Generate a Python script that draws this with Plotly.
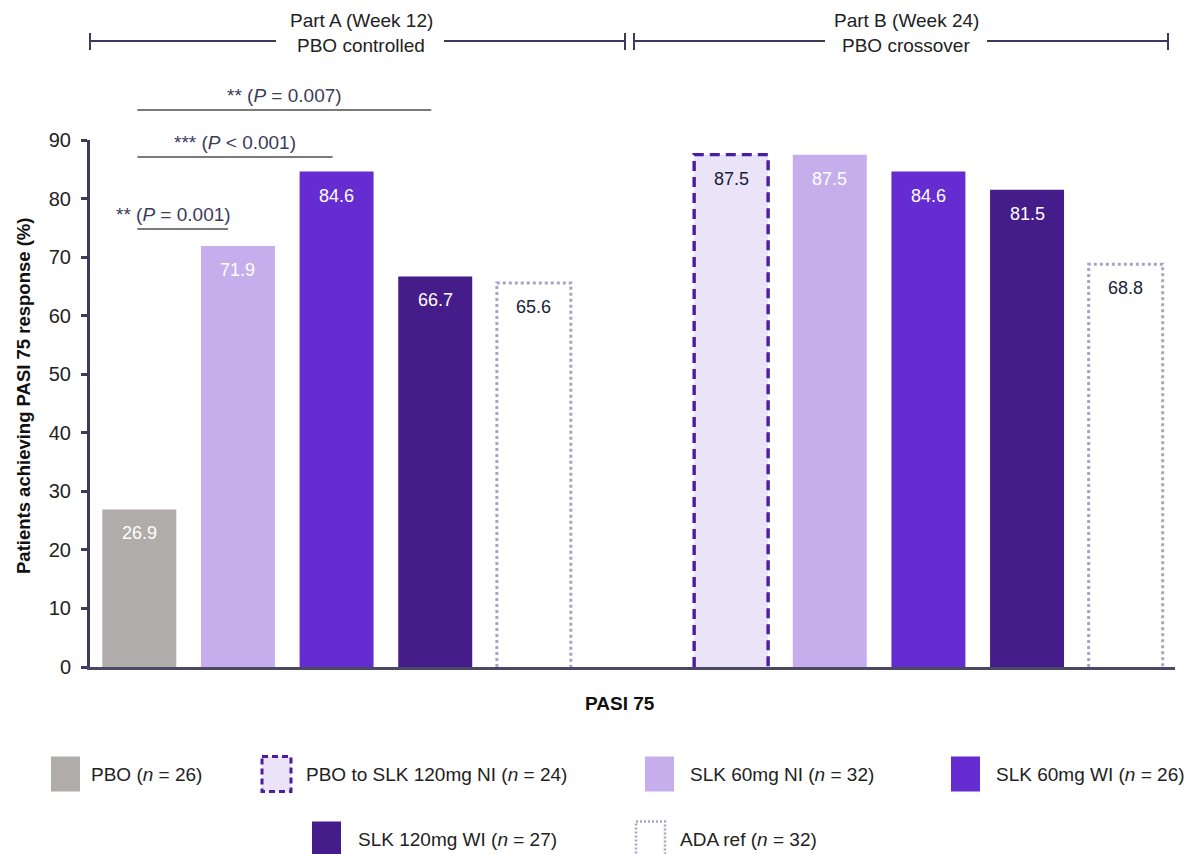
import plotly.graph_objects as go

# ---- data ----
groups = ["PBO", "PBO to SLK 120mg NI", "SLK 60mg NI", "SLK 60mg WI", "SLK 120mg WI", "ADA ref"]
group_n = [26, 24, 32, 26, 27, 32]

part_a_groups = ["PBO", "SLK 60mg NI", "SLK 60mg WI", "SLK 120mg WI", "ADA ref"]
part_a_values = [26.9, 71.9, 84.6, 66.7, 65.6]

part_b_groups = ["PBO to SLK 120mg NI", "SLK 60mg NI", "SLK 60mg WI", "SLK 120mg WI", "ADA ref"]
part_b_values = [87.5, 87.5, 84.6, 81.5, 68.8]

y_ticks = [0, 10, 20, 30, 40, 50, 60, 70, 80, 90]

sig_labels = ["** (<i>P</i> = 0.001)", "*** (<i>P</i> < 0.001)", "** (<i>P</i> = 0.007)"]
sig_pairs = [("PBO", "SLK 60mg NI"), ("PBO", "SLK 60mg WI"), ("PBO", "SLK 120mg WI")]

# ---- styles ----
FONT = "Liberation Sans, Arial, sans-serif"
TXT = "#222222"
AXIS = "#3d3a5c"
style = {
    "PBO": dict(fill="#b0acab", edge=None, dash=None, label="white"),
    "PBO to SLK 120mg NI": dict(fill="#ebe3f8", edge="#4b1ea0", dash="10px,6px", label="#1c1c3a"),
    "SLK 60mg NI": dict(fill="#c5aeeb", edge=None, dash=None, label="white"),
    "SLK 60mg WI": dict(fill="#652dd1", edge=None, dash=None, label="white"),
    "SLK 120mg WI": dict(fill="#451d8b", edge=None, dash=None, label="white"),
    "ADA ref": dict(fill="white", edge="#a9a3c5", dash="3px,3px", label="#1c1c3a"),
}
BAR_W = 0.75

# slot positions: part A in slots 0-4, one empty slot, part B in slots 6-10
bars = []
for i, (g, v) in enumerate(zip(part_a_groups, part_a_values)):
    bars.append((i, g, v))
off = len(part_a_groups) + 1
for i, (g, v) in enumerate(zip(part_b_groups, part_b_values)):
    bars.append((off + i, g, v))

fig = go.Figure()
annotations = []
shapes = []

for g in groups:
    sel = [(x, v) for x, gg, v in bars if gg == g]
    if not sel:
        continue
    xs = [s[0] for s in sel]
    vs = [s[1] for s in sel]
    st = style[g]
    fig.add_trace(go.Bar(
        x=xs, y=vs, width=BAR_W, name=g, showlegend=False,
        marker=dict(color=st["fill"], line=dict(width=0)),
        hoverinfo="skip",
    ))
    if st["edge"]:
        for x, v in sel:
            fig.add_trace(go.Scatter(
                x=[x - BAR_W / 2, x - BAR_W / 2, x + BAR_W / 2, x + BAR_W / 2],
                y=[0, v, v, 0], mode="lines", showlegend=False, hoverinfo="skip",
                line=dict(color=st["edge"], width=3.4 if g != "ADA ref" else 3, dash=st["dash"]),
                cliponaxis=False,
            ))
    for x, v in sel:
        annotations.append(dict(
            x=x, y=v, xref="x", yref="y", text=f"{v:.1f}", showarrow=False,
            yanchor="middle", yshift=-24,
            font=dict(family=FONT, size=18, color=st["label"]),
        ))

# ---- layout geometry (pixel helpers) ----
L, R, T, B = 90, 10, 140, 187
W, H = 1185, 854
PW, PH = W - L - R, H - T - B


def px(xp):
    return (xp - L) / PW


def py(yp):
    return (H - B - yp) / PH


# ---- significance brackets ----
pos_a = {g: i for i, g in enumerate(part_a_groups)}
sig_line_y = [229, 157, 110]
sig_text_dx = [0.37, 0.0, 0.0]
for (g0, g1), lab, ly, dx in zip(sig_pairs, sig_labels, sig_line_y, sig_text_dx):
    x0 = pos_a[g0] - 0.02
    x1 = pos_a[g1] - 0.1 if g1 == "SLK 60mg NI" else pos_a[g1] - 0.04
    shapes.append(dict(type="line", xref="x", yref="paper", x0=x0, x1=x1, y0=py(ly), y1=py(ly),
                       line=dict(color="#7a7a7a", width=1.8)))
    cx = (x0 + x1) / 2 if dx == 0 else x0 + dx
    annotations.append(dict(x=cx, y=py(ly), xref="x", yref="paper", xanchor="center",
                            text=lab, showarrow=False, yanchor="bottom", yshift=2,
                            font=dict(family=FONT, size=19, color="#3b3b5b")))

# ---- part headers ----
for (xa, xb, gap0, gap1, cx, l1, l2) in [
    (90, 625, 276, 444, 361, "Part A (Week 12)", "PBO controlled"),
    (634, 1168, 825, 987, 906, "Part B (Week 24)", "PBO crossover"),
]:
    for s0, s1 in [(xa, gap0), (gap1, xb)]:
        shapes.append(dict(type="line", xref="paper", yref="paper", x0=px(s0), x1=px(s1),
                           y0=py(41), y1=py(41), line=dict(color=AXIS, width=2)))
    for e in (xa, xb):
        shapes.append(dict(type="line", xref="paper", yref="paper", x0=px(e), x1=px(e),
                           y0=py(33), y1=py(50), line=dict(color=AXIS, width=2)))
    annotations.append(dict(x=px(cx), y=py(21), xref="paper", yref="paper", text=l1,
                            xanchor="center", yanchor="middle", showarrow=False,
                            font=dict(family=FONT, size=19, color=TXT)))
    annotations.append(dict(x=px(cx), y=py(45), xref="paper", yref="paper", text=l2,
                            xanchor="center", yanchor="middle", showarrow=False,
                            font=dict(family=FONT, size=19, color=TXT)))

# ---- axis titles ----
annotations.append(dict(x=px(23), y=py(396), xref="paper", yref="paper", textangle=-90,
                        xanchor="center", yanchor="middle",
                        text="<b>Patients achieving PASI 75 response (%)</b>", showarrow=False,
                        font=dict(family=FONT, size=18.5, color="#111111")))
annotations.append(dict(x=px(620), y=py(703), xref="paper", yref="paper",
                        xanchor="center", yanchor="middle",
                        text="<b>PASI 75</b>", showarrow=False,
                        font=dict(family=FONT, size=19, color="#111111")))

# ---- legend (drawn manually to show dashed / dotted outlines) ----
# group: (swatch left, text left, row centre) in pixels
legend_layout = {
    "PBO": (51, 89, 774),
    "PBO to SLK 120mg NI": (262, 304, 774),
    "SLK 60mg NI": (645, 688, 774),
    "SLK 60mg WI": (951, 994, 774),
    "SLK 120mg WI": (312, 356, 839),
    "ADA ref": (636, 678, 839),
}
SW, SH = 29, 35
for g, n in zip(groups, group_n):
    x0, tx, cy = legend_layout[g]
    st = style[g]
    if st["edge"]:
        line = dict(color=st["edge"], width=3 if g != "ADA ref" else 2.5,
                    dash="6px,4px" if g != "ADA ref" else "2px,2px")
    else:
        line = dict(width=0)
    shapes.append(dict(type="rect", xref="paper", yref="paper",
                       x0=px(x0), x1=px(x0 + SW), y0=py(cy - SH / 2), y1=py(cy + SH / 2),
                       fillcolor=st["fill"], line=line))
    annotations.append(dict(x=px(tx), y=py(cy), xref="paper", yref="paper",
                            xanchor="left", yanchor="middle",
                            text=f"{g} (<i>n</i> = {n})", showarrow=False,
                            font=dict(family=FONT, size=19, color=TXT)))

fig.update_layout(
    width=W, height=H,
    margin=dict(l=L, r=R, t=T, b=B, pad=0),
    paper_bgcolor="white", plot_bgcolor="white",
    barmode="overlay",
    shapes=shapes, annotations=annotations,
    xaxis=dict(range=[-0.5, 10.5], showticklabels=False, ticks="", showgrid=False, zeroline=False,
               showline=True, linecolor="#4a4862", linewidth=3, fixedrange=True),
    yaxis=dict(range=[0, 90], tickvals=y_ticks, ticks="outside", ticklen=6, tickwidth=3,
               tickcolor=AXIS, showgrid=False, zeroline=False, showline=True, linecolor=AXIS,
               linewidth=3, ticklabelstandoff=6,
               tickfont=dict(family=FONT, size=20, color=TXT), fixedrange=True),
    showlegend=False,
)

fig.write_html("out.html")
